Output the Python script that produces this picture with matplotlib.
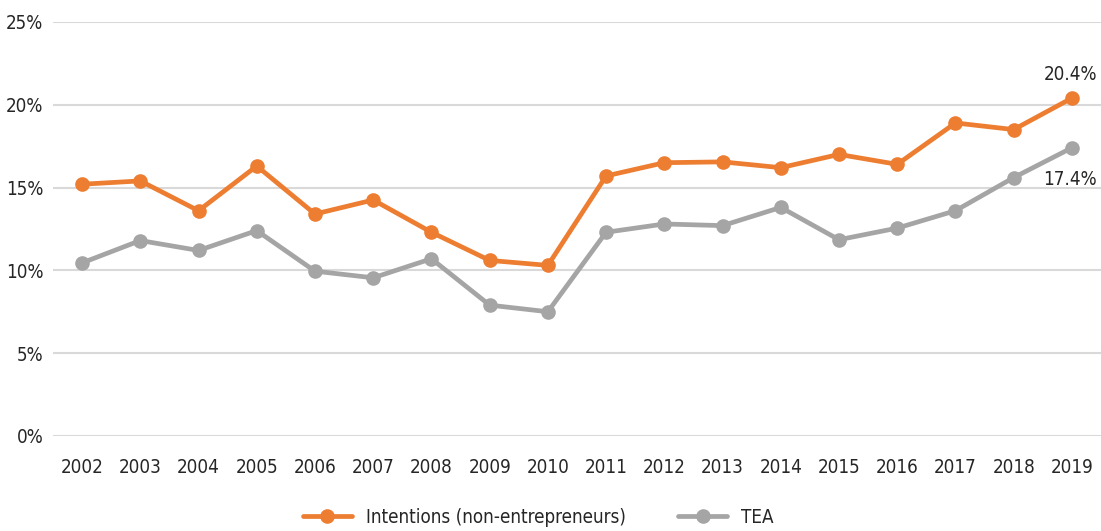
import matplotlib
matplotlib.use("Agg")
import matplotlib.pyplot as plt
from matplotlib.ticker import FuncFormatter
from matplotlib import font_manager

years = ["2002", "2003", "2004", "2005", "2006", "2007", "2008", "2009", "2010",
         "2011", "2012", "2013", "2014", "2015", "2016", "2017", "2018", "2019"]
intentions = [15.2, 15.4, 13.6, 16.3, 13.4, 14.25, 12.3, 10.6, 10.3,
              15.7, 16.5, 16.55, 16.2, 17.0, 16.4, 18.9, 18.5, 20.4]
tea = [10.45, 11.8, 11.2, 12.4, 9.95, 9.55, 10.7, 7.9, 7.5,
       12.3, 12.8, 12.7, 13.8, 11.85, 12.55, 13.6, 15.6, 17.4]

names = {f.name for f in font_manager.fontManager.ttflist}
if "Liberation Sans Narrow" in names:
    plt.rcParams["font.family"] = ["Liberation Sans Narrow", "DejaVu Sans"]
    fs = 17
else:
    plt.rcParams["font.family"] = ["DejaVu Sans"]
    plt.rcParams["font.stretch"] = "condensed"
    fs = 13.5

orange = "#ED7D31"
gray = "#A5A5A5"
txt = "#262626"

fig = plt.figure(figsize=(11.01, 5.31), dpi=100)
ax = fig.add_axes([0.0481, 0.179, 0.9519, 0.7797])

x = list(range(len(years)))
ax.plot(x, intentions, color=orange, lw=3.4, marker="o", ms=9.5, label="Intentions (non-entrepreneurs)",
        zorder=3, solid_capstyle="round")
ax.plot(x, tea, color=gray, lw=3.4, marker="o", ms=9.5, label="TEA", zorder=3, solid_capstyle="round")

ax.set_xlim(-0.5, len(years) - 0.5)
ax.set_ylim(0, 25)
ax.set_yticks([0, 5, 10, 15, 20, 25])
ax.yaxis.set_major_formatter(FuncFormatter(lambda v, p: f"{v:.0f}%"))
ax.set_xticks(x)
ax.set_xticklabels(years)
ax.grid(axis="y", color="#D9D9D9", lw=1.5)
ax.set_axisbelow(True)
for s in ax.spines.values():
    s.set_visible(False)
ax.tick_params(length=0, labelsize=fs, colors=txt)
ax.tick_params(axis="x", pad=16)
ax.tick_params(axis="y", pad=7)

ax.annotate(f"{intentions[-1]:.1f}%", (x[-1], intentions[-1]), xytext=(18, 10),
            textcoords="offset points", ha="right", va="bottom", fontsize=fs, color=txt)
ax.annotate(f"{tea[-1]:.1f}%", (x[-1], tea[-1]), xytext=(18, -16),
            textcoords="offset points", ha="right", va="top", fontsize=fs, color=txt)

ax.legend(loc="center", bbox_to_anchor=(0.463, -0.196), ncol=2, frameon=False,
          fontsize=fs, handlelength=2.6, handletextpad=0.75, columnspacing=2.8, labelcolor=txt)

fig.savefig("out.png", dpi=100)
